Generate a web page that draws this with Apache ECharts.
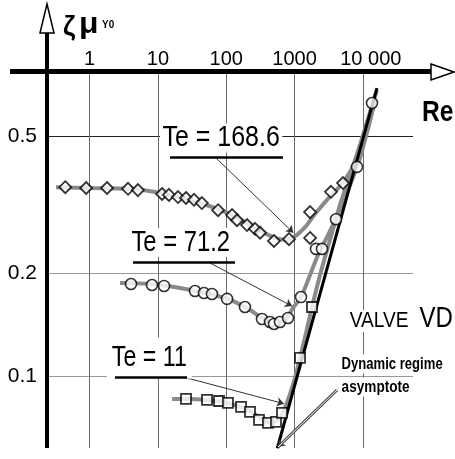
<!DOCTYPE html>
<html>
<head>
<meta charset="utf-8">
<title>Valve VD</title>
<script src="https://cdn.jsdelivr.net/npm/echarts@6.0.0/dist/echarts.min.js"></script>
<style>
  html, body { margin: 0; padding: 0; background: #fff; }
  #chart { width: 455px; height: 459px; }
</style>
</head>
<body>
<div id="chart"></div>
<script>
  // axis ticks
  const reTicks = [1, 10, 100, 1000, 10000];
  const reTickLabels = ['1', '10', '100', '1000', '10 000'];
  const zetaTicks = [0.1, 0.2, 0.5];
  const zetaTickLabels = ['0.1', '0.2', '0.5'];

  // Te = 168.6 (diamonds)
  const re168 = [0.44, 0.89, 1.8, 3.65, 5.1, 11.5, 14.5, 19.7, 25.8, 33.8, 44, 76, 122, 144, 202, 264, 313, 500, 830, 1690, 1690, 3420, 5130];
  const zeta168 = [0.356, 0.354, 0.354, 0.352, 0.349, 0.340, 0.338, 0.333, 0.331, 0.327, 0.320, 0.305, 0.295, 0.285, 0.276, 0.269, 0.262, 0.248, 0.251, 0.253, 0.301, 0.345, 0.366];
  // Te = 71.2 (circles)
  const re71 = [4.04, 8.2, 12.3, 34.9, 47.3, 61.9, 103, 188, 334, 438, 501, 613, 803, 1245, 2064, 2527, 4052, 8225, 13640];
  const zeta71 = [0.1856, 0.1844, 0.1832, 0.1771, 0.1747, 0.1736, 0.1679, 0.159, 0.1467, 0.1438, 0.1419, 0.1438, 0.1477, 0.170, 0.235, 0.235, 0.287, 0.408, 0.627];
  // Te = 11 (squares)
  const re11 = [25.8, 52.4, 78.5, 106, 165, 223, 302, 409, 536, 656, 1204, 1804];
  const zeta11 = [0.0857, 0.0851, 0.0845, 0.0834, 0.0812, 0.0785, 0.0744, 0.0729, 0.0734, 0.078, 0.1129, 0.159];

  // fitted curves (grey)
  const fitRe168 = [0.322, 1.01, 3.9, 12.7, 41.3, 114, 264, 518, 726, 1017, 1425, 1996, 2991, 4636, 6494, 9100, 11920, 15090];
  const fitZeta168 = [0.356, 0.354, 0.352, 0.340, 0.320, 0.297, 0.2705, 0.253, 0.250, 0.256, 0.272, 0.297, 0.327, 0.359, 0.394, 0.451, 0.530, 0.640];
  const fitRe71 = [2.79, 7.66, 21.1, 57.9, 114, 223, 370, 518, 726, 951, 1245, 1687, 2208, 3094, 4335, 6494, 9100, 11920, 15090];
  const fitZeta71 = [0.1868, 0.1856, 0.1807, 0.1736, 0.1667, 0.1559, 0.1458, 0.1428, 0.1458, 0.158, 0.170, 0.1972, 0.2256, 0.258, 0.297, 0.361, 0.433, 0.530, 0.640];
  const fitRe11 = [16.1, 25.8, 52.4, 106, 223, 334, 468, 613, 803, 1017, 1204, 1474, 1804, 2363, 3310, 4636, 6494, 9100, 12750, 16100];
  const fitZeta11 = [0.0857, 0.0857, 0.0851, 0.0834, 0.0790, 0.0749, 0.0729, 0.0754, 0.0851, 0.0987, 0.1129, 0.1335, 0.159, 0.1972, 0.250, 0.316, 0.386, 0.473, 0.590, 0.684];

  // dynamic regime asymptote
  const asymRe = [560, 16100];
  const asymZeta = [0.0615, 0.693];

  // where the leader arrows point (on the curves)
  const tip168 = [960, 0.262];
  const tip71 = [920, 0.160];
  const tip11 = [700, 0.083];
  const tipAsym = [573, 0.062];

  const FONT = '"Liberation Sans", Arial, sans-serif';

  const zip = (a, b) => a.map((v, i) => [v, b[i]]);
  function pick(ticks, labels, v) {
    let best = 0;
    ticks.forEach((t, i) => {
      if (Math.abs(Math.log10(t / v)) < Math.abs(Math.log10(ticks[best] / v))) best = i;
    });
    return labels[best];
  }
  // narrow text: the original lettering is condensed, so squeeze it horizontally
  function label(x, y, text, font, sx, extra) {
    return {
      type: 'text', z: 50, x: x, y: y, scaleX: sx,
      style: Object.assign({ text: text, font: font, fill: '#000', verticalAlign: 'middle' }, extra || {})
    };
  }

  let myChart = echarts.init(document.getElementById('chart'));

  const fitStyle = { color: '#8a8a8a', width: 4 };
  const leader = { color: '#333', width: 1, type: 'solid' };
  const whiteBg = { backgroundColor: '#fff', padding: [0, 3] };

  const option = {
    animation: false,
    grid: { left: 46, top: 72, right: 42, bottom: 11, containLabel: false, outerBoundsMode: 'none' },
    xAxis: {
      type: 'log',
      logBase: 10,
      position: 'top',
      min: 0.2299,
      max: 54300,
      axisLine: { show: false },
      axisTick: { show: false, customValues: reTicks },
      axisLabel: {
        customValues: reTicks,
        margin: 3,
        fontSize: 20,
        fontFamily: FONT,
        color: '#000',
        formatter: v => {
          const s = pick(reTicks, reTickLabels, v);
          return s === '10 000' ? '{r|' + s + '}' : s;
        },
        rich: { r: { fontSize: 20, fontFamily: FONT, padding: [0, 0, 0, 16] } }
      },
      splitLine: { show: true, lineStyle: { color: '#6a6a6a', width: 1 } }
    },
    yAxis: {
      type: 'log',
      logBase: 10,
      min: 0.0616,
      max: 0.7724,
      axisLine: { show: false },
      axisTick: { show: false, customValues: zetaTicks },
      axisLabel: {
        customValues: zetaTicks,
        margin: 9,
        fontSize: 21,
        fontFamily: FONT,
        color: '#000',
        formatter: v => pick(zetaTicks, zetaTickLabels, v)
      },
      splitLine: { show: true, lineStyle: { color: ['#999', '#999', '#222'], width: 1 } }
    },
    series: [
      { name: 'fit 168.6', type: 'line', data: zip(fitRe168, fitZeta168), showSymbol: false, smooth: 0.3, lineStyle: fitStyle, z: 2 },
      { name: 'fit 71.2', type: 'line', data: zip(fitRe71, fitZeta71), showSymbol: false, smooth: 0.3, lineStyle: fitStyle, z: 2 },
      { name: 'fit 11', type: 'line', data: zip(fitRe11, fitZeta11), showSymbol: false, smooth: 0.3, lineStyle: fitStyle, z: 2 },
      {
        name: 'asymptote', type: 'line', data: zip(asymRe, asymZeta), showSymbol: false,
        lineStyle: { color: '#000', width: 3 }, z: 3,
        markLine: {
          silent: true,
          symbol: ['none', 'arrow'],
          symbolSize: 7,
          label: { show: false },
          emphasis: { disabled: true },
          data: [
            [{ x: 216, y: 158, lineStyle: leader }, { coord: tip168 }],
            [{ x: 210, y: 263, lineStyle: leader }, { coord: tip71 }],
            [{ x: 187, y: 378, lineStyle: leader }, { coord: tip11 }],
            [{ x: 337, y: 390, lineStyle: { color: '#444', width: 3, type: 'solid' } }, { coord: tipAsym }],
            [{ x: 337, y: 390, symbol: 'none', lineStyle: { color: '#fff', width: 1, type: 'solid' } }, { coord: tipAsym, symbol: 'none' }]
          ]
        }
      },
      { name: 'Te = 168.6', type: 'scatter', data: zip(re168, zeta168), symbol: 'diamond', symbolSize: 12,
        itemStyle: { color: '#fff', borderColor: '#000', borderWidth: 1.8 }, z: 5 },
      { name: 'Te = 71.2', type: 'scatter', data: zip(re71, zeta71), symbol: 'circle', symbolSize: 11,
        itemStyle: { color: '#fff', borderColor: '#000', borderWidth: 1.6 }, z: 5 },
      { name: 'Te = 11', type: 'scatter', data: zip(re11, zeta11), symbol: 'rect', symbolSize: 10,
        itemStyle: { color: '#fff', borderColor: '#000', borderWidth: 1.8 }, z: 5 }
    ],
    graphic: [
      // axes with hollow arrow heads
      { type: 'line', z: 50, shape: { x1: 10, y1: 71.5, x2: 431, y2: 71.5 }, style: { stroke: '#000', lineWidth: 5 } },
      { type: 'polygon', z: 51, shape: { points: [[431, 64], [454, 72], [431, 80]] }, style: { fill: '#fff', stroke: '#000', lineWidth: 1.5 } },
      { type: 'line', z: 50, shape: { x1: 47, y1: 33, x2: 47, y2: 448 }, style: { stroke: '#000', lineWidth: 4 } },
      { type: 'polygon', z: 51, shape: { points: [[40, 33], [47, 4], [54, 33]] }, style: { fill: '#fff', stroke: '#000', lineWidth: 1.5 } },
      // axis titles
      label(422, 113, 'Re', 'bold 30px ' + FONT, 0.82),
      label(63, 28, 'ζ', 'bold 27px ' + FONT, 1),
      label(79, 25, 'μ', 'bold 29px ' + FONT, 1.1),
      label(102, 25, 'Y0', 'bold 10px ' + FONT, 1),
      // curve labels
      label(160, 138, 'Te = 168.6', '29px ' + FONT, 0.86, whiteBg),
      { type: 'line', z: 52, shape: { x1: 170, y1: 157.5, x2: 283, y2: 157.5 }, style: { stroke: '#000', lineWidth: 2.5 } },
      label(129, 242.5, 'Te = 71.2', '29px ' + FONT, 0.82, whiteBg),
      { type: 'line', z: 52, shape: { x1: 133, y1: 262.5, x2: 235, y2: 262.5 }, style: { stroke: '#000', lineWidth: 2.5 } },
      label(107, 358, 'Te = 11', '29px ' + FONT, 0.8, { backgroundColor: '#fff', padding: [2, 6, 10, 6] }),
      { type: 'line', z: 52, shape: { x1: 115, y1: 377.5, x2: 187, y2: 377.5 }, style: { stroke: '#000', lineWidth: 2.5 } },
      // valve name and asymptote note
      label(348, 321, 'VALVE', '22px ' + FONT, 0.87, { backgroundColor: '#fff', padding: [0, 2] }),
      label(418, 319, 'VD', '30px ' + FONT, 0.8, { backgroundColor: '#fff', padding: [0, 2] }),
      label(340, 364, 'Dynamic regime', 'bold 17px ' + FONT, 0.77, { backgroundColor: '#fff', padding: [1, 2] }),
      label(340, 387, 'asymptote', 'bold 17px ' + FONT, 0.8, { backgroundColor: '#fff', padding: [1, 2] })
    ]
  };
  myChart.setOption(option);
  window.addEventListener('resize', function () {
    myChart.resize();
  });
</script>
</body>
</html>
